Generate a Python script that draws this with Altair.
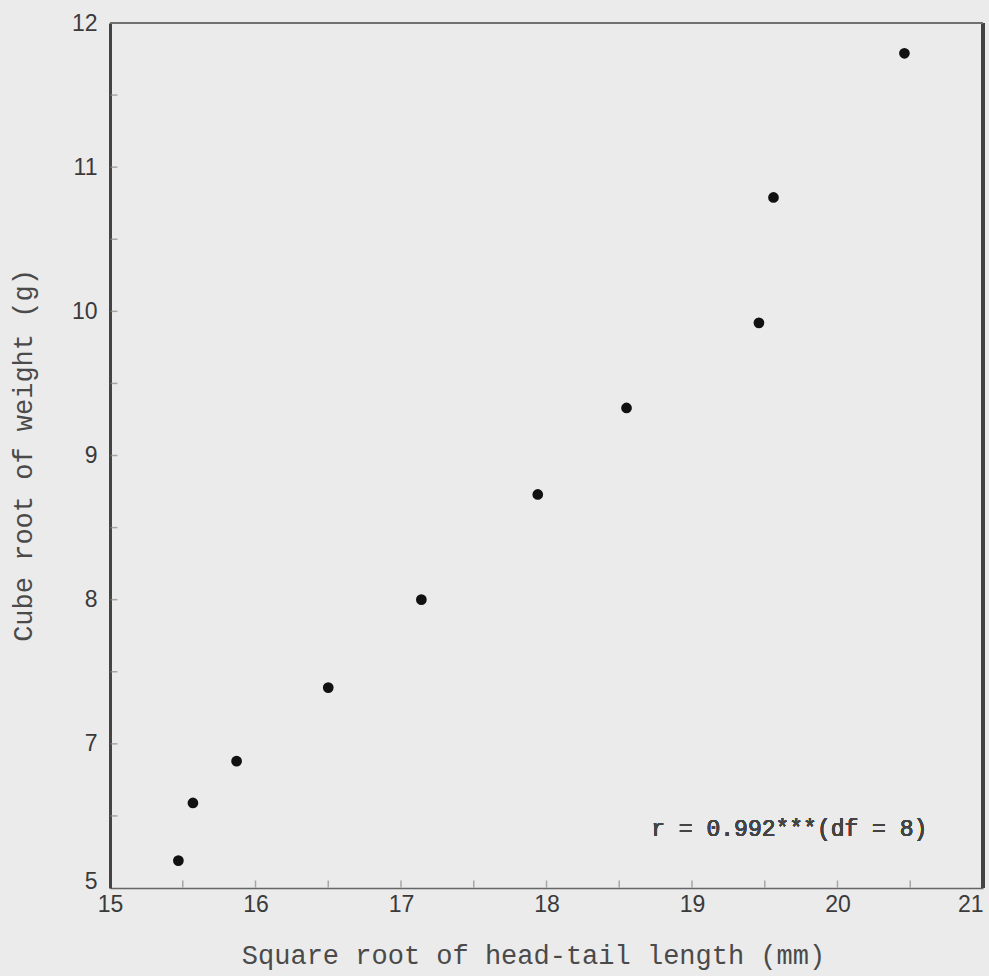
import altair as alt
import pandas as pd

# Data
x_vals = [15.47, 15.57, 15.87, 16.50, 17.14, 17.94, 18.55, 19.46, 19.56, 20.46]
y_vals = [6.19, 6.59, 6.88, 7.39, 8.00, 8.73, 9.33, 9.92, 10.79, 11.79]

x_ticks = [15, 16, 17, 18, 19, 20, 21]
y_ticks = [6, 7, 8, 9, 10, 11, 12]
x_minor = [15.5, 16, 16.5, 17, 17.5, 18, 18.5, 19, 19.5, 20, 20.5]
y_minor = [6.5, 7, 7.5, 8, 8.5, 9, 9.5, 10, 10.5, 11, 11.5]

annotation = "r = 0.992***(df = 8)"
x_title = "Square root of head-tail length (mm)"
y_title = "Cube root of weight (g)"

df = pd.DataFrame({"x": x_vals, "y": y_vals})
dfx = pd.DataFrame({"t": x_minor})
dfy = pd.DataFrame({"t": y_minor})

W, H = 873, 865
xscale = alt.Scale(domain=[15, 21], nice=False, zero=False)
yscale = alt.Scale(domain=[6, 12], nice=False, zero=False)

label_font = "Liberation Sans"
mono = "Liberation Mono"

xaxis = alt.Axis(
    values=x_ticks, title=x_title, grid=False, ticks=False, format="d",
    labelFont=label_font, labelFontSize=23, labelColor="#3a3a3a", labelPadding=5,
    labelAlign={"condition": {"test": "datum.value == 21", "value": "right"}, "value": "center"},
    domainColor="#666666", domainWidth=1.6,
    titleFont=mono, titleFontSize=27, titleFontWeight="normal", titleColor="#4a4a4a",
    titleBaseline="alphabetic", titleY=75, titleX=423, titleAnchor="middle",
    labelFlush=False,
)
yaxis = alt.Axis(
    values=y_ticks, title=y_title, grid=False, ticks=False, format="d",
    labelExpr="datum.value == 6 ? '5' : datum.label",
    labelBaseline={"condition": {"test": "datum.value == 6", "value": "alphabetic"}, "value": "middle"},
    labelFont=label_font, labelFontSize=23, labelColor="#3a3a3a", labelPadding=13,
    domainColor="#444444", domainWidth=3,
    titleFont=mono, titleFontSize=27, titleFontWeight="normal", titleColor="#4a4a4a",
    titleBaseline="middle", titleX=-87, titleY=432, titleAlign="center", titleAngle=270,
    labelFlush=False,
)

points = alt.Chart(df).mark_circle(size=115, color="#111111", opacity=1).encode(
    x=alt.X("x:Q", scale=xscale, axis=xaxis),
    y=alt.Y("y:Q", scale=yscale, axis=yaxis),
)

xt = alt.Chart(dfx).mark_tick(orient="vertical", size=7, thickness=1.5, color="#8a8a8a").encode(
    x=alt.X("t:Q", scale=xscale),
    y=alt.datum(6, scale=yscale),
    yOffset=alt.value(-4),
)
yt = alt.Chart(dfy).mark_tick(orient="horizontal", size=7, thickness=1.5, color="#8a8a8a").encode(
    y=alt.Y("t:Q", scale=yscale),
    x=alt.datum(15),
    xOffset=alt.value(4),
)

right = alt.Chart(df).mark_rule(color="#444444", strokeWidth=3).encode(
    x=alt.datum(21), y=alt.datum(6), y2=alt.datum(12)
)
top = alt.Chart(df).mark_rule(color="#707070", strokeWidth=1.6).encode(
    y=alt.datum(12), x=alt.datum(15), x2=alt.datum(21)
)

text = alt.Chart(df).mark_text(
    text=annotation, font=mono, fontSize=23, color="#444444", fontWeight="normal",
    align="left", baseline="middle",
).encode(x=alt.datum(18.72), y=alt.datum(6.41))

chart = alt.layer(xt, yt, right, top, points, text).properties(
    width=W, height=H,
    background="#ebebeb",
    autosize=alt.AutoSizeParams(type="none"),
    padding={"left": 110, "top": 23, "right": 6, "bottom": 88},
).configure_view(stroke=None)

chart.save("out.html", embed_options={"renderer": "svg", "actions": False})
